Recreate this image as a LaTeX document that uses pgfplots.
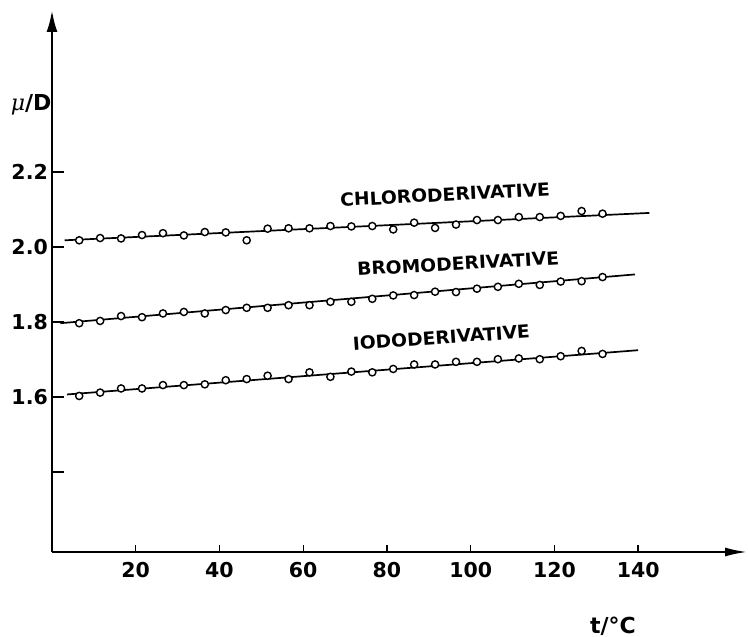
\documentclass[border=0pt]{standalone}
\usepackage{fontspec}
\usepackage{pgfplots}
\usepackage{pgfplotstable}
\pgfplotsset{compat=1.18}
\usetikzlibrary{arrows.meta}
\newfontfamily\lab{DejaVu Sans}
\newfontfamily\labw{DejaVu Sans}[FakeStretch=1.04]
\newfontfamily\serifmu{DejaVu Serif}

\pgfplotstableread{
t     c      b      i
6.5   2.018  1.797  1.603
11.5  2.024  1.803  1.612
16.5  2.023  1.816  1.623
21.5  2.032  1.813  1.623
26.5  2.037  1.823  1.632
31.5  2.031  1.827  1.632
36.5  2.040  1.823  1.634
41.5  2.039  1.832  1.645
46.5  2.018  1.838  1.648
51.5  2.049  1.838  1.657
56.5  2.050  1.845  1.648
61.5  2.050  1.845  1.666
66.5  2.056  1.854  1.654
71.5  2.055  1.854  1.668
76.5  2.056  1.862  1.666
81.5  2.047  1.871  1.675
86.5  2.065  1.872  1.687
91.5  2.051  1.881  1.687
96.5  2.060  1.880  1.694
101.5 2.072  1.889  1.694
106.5 2.072  1.894  1.701
111.5 2.080  1.902  1.703
116.5 2.080  1.899  1.701
121.5 2.083  1.908  1.709
126.5 2.096  1.909  1.723
131.5 2.089  1.920  1.715
}\data

\begin{document}
\begin{tikzpicture}
\begin{axis}[name=ax, scale only axis, width=695pt, height=542pt,
  xmin=0, xmax=166, ymin=1.187, ymax=2.632,
  axis lines=left,
  x axis line style={line width=2pt, -{Latex[length=22pt,width=9pt]}},
  y axis line style={line width=2.6pt, -{Latex[length=22pt,width=11pt]}},
  xtick={20,40,60,80,100,120,140}, xticklabels={20,40,60,80,100,120,140},
  ytick={1.4,1.6,1.8,2.0,2.2}, yticklabels={,1.6,1.8,2.0,2.2},
  minor tick num=0,
  tick align=inside,
  xtick style={black, line width=1.4pt, /pgfplots/major tick length=7pt},
  ytick style={black, line width=1.4pt, /pgfplots/major tick length=12pt},
  ticklabel style={font=\fontsize{20.5}{23}\selectfont\lab\bfseries, inner sep=0pt},
  xticklabel style={yshift=-10pt},
  yticklabel style={xshift=-4pt},
  clip=false,
]
\addplot[black, line width=1.7pt] coordinates {(3,2.018) (142.7,2.091)};
\addplot[black, line width=1.7pt] coordinates {(2,1.797) (139.2,1.927)};
\addplot[black, line width=1.7pt] coordinates {(3.6,1.607) (140,1.725)};
\addplot[only marks, mark=*, mark size=3.6pt, mark options={fill=white, draw=black, line width=1.4pt}] table[x=t, y=c] {\data};
\addplot[only marks, mark=*, mark size=3.6pt, mark options={fill=white, draw=black, line width=1.4pt}] table[x=t, y=b] {\data};
\addplot[only marks, mark=*, mark size=3.6pt, mark options={fill=white, draw=black, line width=1.4pt}] table[x=t, y=i] {\data};
\node[rotate=3, font=\fontsize{18}{21}\selectfont\labw\bfseries] at (axis cs:93.9,2.140) {CHLORODERIVATIVE};
\node[rotate=3.2, font=\fontsize{18}{21}\selectfont\labw\bfseries] at (axis cs:97.0,1.956) {BROMODERIVATIVE};
\node[rotate=4, font=\fontsize{18}{21}\selectfont\labw\bfseries] at (axis cs:93.0,1.759) {IODODERIVATIVE};
\node[font=\fontsize{22}{25}\selectfont\lab\bfseries] at (axis cs:-5,2.379) {{\serifmu\mdseries\itshape μ}/D};
\node[font=\fontsize{22}{25}\selectfont\lab\bfseries] at (axis cs:134,0.99) {t/°C};
\end{axis}
\pgfresetboundingbox
\path[use as bounding box] (ax.south west) ++(-52pt,-85pt) rectangle ++(748pt,637pt);
\end{tikzpicture}
\end{document}
